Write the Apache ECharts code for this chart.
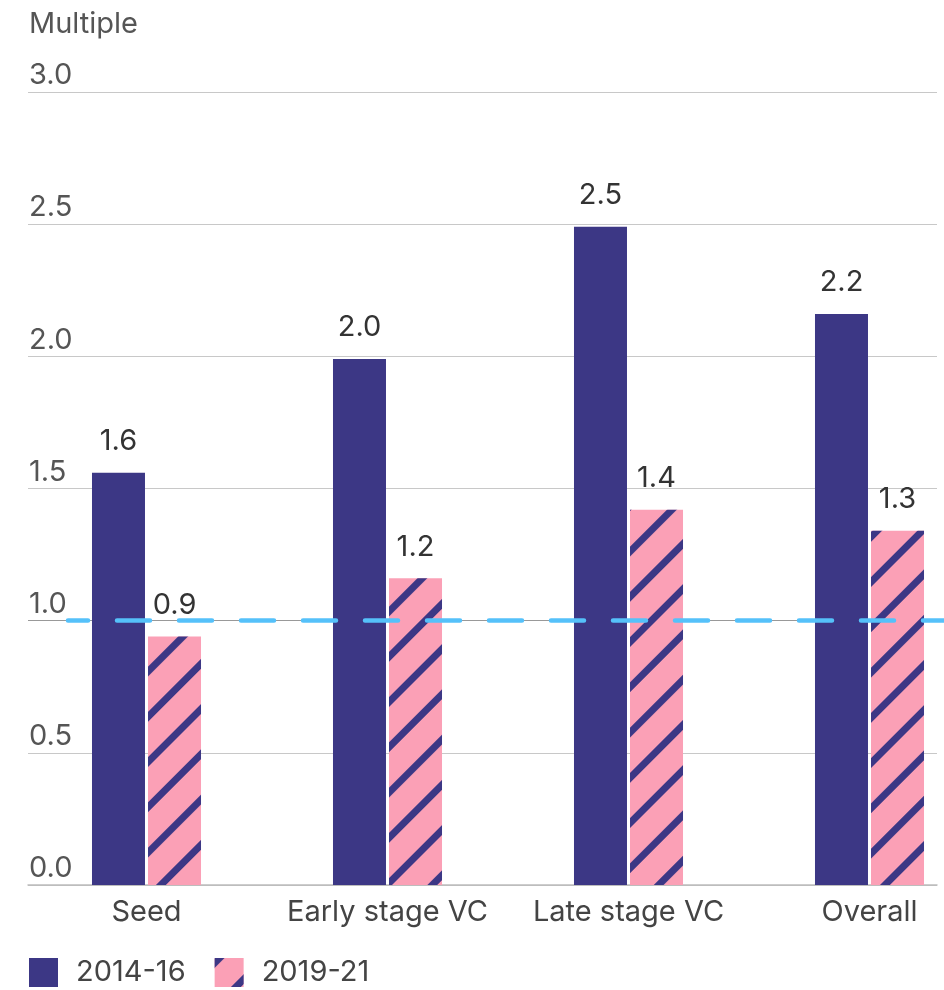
<!DOCTYPE html>
<html><head><meta charset="utf-8">
<script src="https://cdn.jsdelivr.net/npm/echarts@6/dist/echarts.min.js"></script>
<style>html,body{margin:0;padding:0;background:#fff}#c{width:944px;height:990px}</style>
</head><body><div id="c"></div>
<script>
const categories = ['Seed', 'Early stage VC', 'Late stage VC', 'Overall'];
const series2014 = [1.56, 1.99, 2.49, 2.16];
const series2019 = [0.94, 1.16, 1.42, 1.34];
const seriesNames = ['2014-16', '2019-21'];
const breakEven = 1.0;
const yMin = 0, yMax = 3, yStep = 0.5;

const FONT = 'Inter';
const FS = 29;
const navy = '#3c3785';
const pink = '#fba0b6';
const chart = echarts.init(document.getElementById('c'));
const labelStyle = {show: true, position: 'top', distance: 17, fontFamily: FONT, fontSize: FS, color: '#333', formatter: p => p.value.toFixed(1)};
const gridTop = 92, gridH = 793;
chart.setOption({
  animation: false,
  title: {text: 'Multiple', left: 24, top: 5, textStyle: {fontFamily: FONT, fontSize: FS, fontWeight: 'normal', color: '#555'}},
  legend: {data: seriesNames, left: 29, top: 958, itemWidth: 29, itemHeight: 29, itemGap: 29, icon: 'rect', padding: 0,
    textStyle: {fontFamily: FONT, fontSize: FS, color: '#444', padding: [0, 0, 0, 13]}},
  grid: [
    {left: 26, width: 964, top: gridTop, height: gridH, outerBoundsMode: 'none', containLabel: false},
    {left: 28, right: 7, top: gridTop, height: gridH, outerBoundsMode: 'none', containLabel: false},
    {left: 68, width: 922, top: gridTop, height: gridH, outerBoundsMode: 'none', containLabel: false}
  ],
  xAxis: [
    {gridIndex: 0, type: 'category', data: categories, axisLine: {show: false}, axisTick: {show: false},
      axisLabel: {interval: 0, margin: 13, fontFamily: FONT, fontSize: FS, color: '#444'}},
    {gridIndex: 1, type: 'value', min: 0, max: 1, axisLine: {show: true, lineStyle: {color: '#bdbdbd', width: 1.5}}, axisTick: {show: false}, axisLabel: {show: false}, splitLine: {show: false}},
    {gridIndex: 2, type: 'value', min: 0, max: 1, show: false}
  ],
  yAxis: [
    {gridIndex: 0, type: 'value', min: yMin, max: yMax, interval: yStep, show: false},
    {gridIndex: 1, type: 'value', min: yMin, max: yMax, interval: yStep, axisLine: {show: false}, axisTick: {show: false},
      splitLine: {lineStyle: {color: ['#bdbdbd', '#c8c8c8', '#999', '#c8c8c8', '#c8c8c8', '#c8c8c8', '#c8c8c8'], width: 1.2}},
      axisLabel: {inside: true, margin: 1, verticalAlign: 'bottom', padding: [0, 0, 2, 0], fontFamily: FONT, fontSize: FS, color: '#555',
        formatter: v => v.toFixed(1)}},
    {gridIndex: 2, type: 'value', min: yMin, max: yMax, show: false}
  ],
  series: [
    {name: seriesNames[0], type: 'bar', xAxisIndex: 0, yAxisIndex: 0, data: series2014, barWidth: 53, barGap: '5.7%',
      itemStyle: {color: navy}, label: labelStyle},
    {name: seriesNames[1], type: 'bar', xAxisIndex: 0, yAxisIndex: 0, data: series2019, barWidth: 53, barGap: '5.7%',
      itemStyle: {color: pink, decal: {symbol: 'rect', symbolSize: 1, color: navy, dashArrayX: [1, 0], dashArrayY: [7, 25], rotation: -Math.PI / 4}},
      label: labelStyle},
    {name: 'ref', type: 'line', xAxisIndex: 2, yAxisIndex: 2, data: [], z: 10,
      markLine: {silent: true, symbol: 'none', label: {show: false}, animation: false,
        lineStyle: {color: '#55c1fa', width: 4.5, type: [33, 29], dashOffset: 13, cap: 'round'},
        data: [{yAxis: breakEven}]}}
  ]
});
</script></body></html>
